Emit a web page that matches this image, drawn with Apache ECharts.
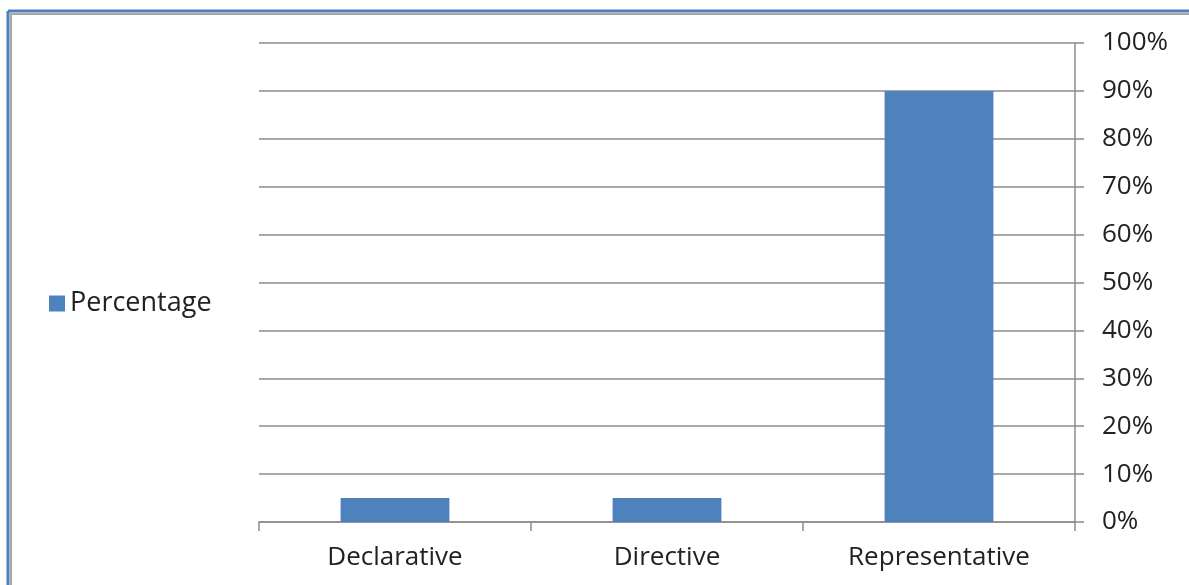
<!DOCTYPE html>
<html>
<head>
<meta charset="utf-8">
<script src="https://cdn.jsdelivr.net/npm/echarts@6/dist/echarts.min.js"></script>
<style>
  html, body { margin: 0; padding: 0; background: #fff; }
  #main { width: 1189px; height: 585px; }
</style>
</head>
<body>
<div id="main"></div>
<script>
var categories = ['Declarative', 'Directive', 'Representative'];
var percentage = [5, 5, 90];
var yTicks = [0, 10, 20, 30, 40, 50, 60, 70, 80, 90, 100];

var myChart = echarts.init(document.getElementById('main'));

var option = {
    animation: false,
    textStyle: { fontFamily: 'Open Sans' },
    grid: { left: 259, right: 114, top: 43, bottom: 63 },
    legend: {
        show: true,
        data: ['Percentage'],
        left: 44,
        top: 285,
        icon: 'rect',
        itemWidth: 16,
        itemHeight: 16,
        itemGap: 8,
        textStyle: { fontSize: 27, color: '#222', fontFamily: 'Open Sans' }
    },
    xAxis: {
        type: 'category',
        data: categories,
        axisLine: { lineStyle: { color: '#8c8c8c', width: 1.5 } },
        axisTick: { show: true, length: 9, lineStyle: { color: '#8c8c8c', width: 1.5 } },
        axisLabel: { fontSize: 26, color: '#222', margin: 23 }
    },
    yAxis: {
        type: 'value',
        position: 'right',
        min: 0,
        max: yTicks[yTicks.length - 1],
        interval: 10,
        axisLine: { show: true, lineStyle: { color: '#8c8c8c', width: 1.5 } },
        axisTick: { show: true, length: 9, lineStyle: { color: '#8c8c8c', width: 1.5 } },
        splitLine: { lineStyle: { color: '#8c8c8c', width: 1.5 } },
        axisLabel: { fontSize: 26, color: '#222', margin: 27, formatter: '{value}%' }
    },
    series: [{
        name: 'Percentage',
        type: 'bar',
        data: percentage,
        barWidth: '40%',
        itemStyle: { color: '#4F81BD' }
    }],
    graphic: [
        { type: 'line', shape: { x1: 8, y1: 11, x2: 1189, y2: 11 }, style: { stroke: '#4a7ebf', lineWidth: 3 } },
        { type: 'line', shape: { x1: 8, y1: 11, x2: 8, y2: 585 }, style: { stroke: '#4a7ebf', lineWidth: 3 } },
        { type: 'line', shape: { x1: 10, y1: 14, x2: 1189, y2: 14 }, style: { stroke: '#a6a6a6', lineWidth: 2 } },
        { type: 'line', shape: { x1: 11, y1: 13, x2: 11, y2: 585 }, style: { stroke: '#a6a6a6', lineWidth: 2 } }
    ]
};

myChart.setOption(option);
</script>
</body>
</html>
